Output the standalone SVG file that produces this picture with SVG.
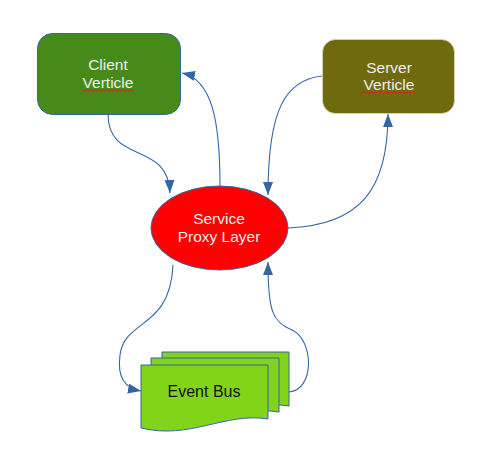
<svg xmlns="http://www.w3.org/2000/svg" width="479" height="455" viewBox="0 0 479 455">
<style>
.lbl{font-family:"Liberation Sans",Arial,sans-serif;font-size:15.5px;text-anchor:middle;fill:#eeeeee}
.dark{fill:#111111;font-size:16px}
.conn{fill:none;stroke:#3465a4;stroke-width:1.1}
.doc{fill:#81d41a;stroke:#3465a4;stroke-width:1}
.sq{fill:none;stroke:#e0201a;stroke-width:1}
</style>
<defs>
<marker id="ah" markerUnits="userSpaceOnUse" markerWidth="15" markerHeight="12" refX="13" refY="5" orient="auto">
<path d="M0,0 L13,5 L0,10 z" fill="#3465a4"/>
</marker>
</defs>
<rect width="479" height="455" fill="#ffffff"/>
<g id="client">
<rect x="37.5" y="33.5" width="143" height="81" rx="15" fill="#468a1a" stroke="#3465a4"/>
<text class="lbl" x="108" y="70">Client</text>
<text class="lbl" x="108" y="88">Verticle</text>
<path class="sq" d="M82,90.5 q1,-1.5 2,0 t2,0 t2,0 t2,0 t2,0 t2,0 t2,0 t2,0 t2,0 t2,0 t2,0 t2,0 t2,0 t2,0 t2,0 t2,0 t2,0 t2,0 t2,0 t2,0 t2,0 t2,0 t2,0 t2,0 t2,0 t2,0"/>
</g>
<g id="server">
<rect x="322.5" y="39.5" width="132" height="74" rx="13" fill="#706a0e" stroke="#d8d8c0" stroke-width="0.8"/>
<text class="lbl" x="389" y="73">Server</text>
<text class="lbl" x="389" y="90">Verticle</text>
<path class="sq" d="M362,92.5 q1,-1.5 2,0 t2,0 t2,0 t2,0 t2,0 t2,0 t2,0 t2,0 t2,0 t2,0 t2,0 t2,0 t2,0 t2,0 t2,0 t2,0 t2,0 t2,0 t2,0 t2,0 t2,0 t2,0 t2,0 t2,0 t2,0 t2,0"/>
</g>
<g id="proxy">
<ellipse cx="219.5" cy="228" rx="68.5" ry="42" fill="#ff0000" stroke="#3465a4"/>
<text class="lbl" x="219" y="224">Service</text>
<text class="lbl" x="219" y="242">Proxy Layer</text>
</g>
<g id="eventbus">
<path class="doc" d="M162,352 H289 V406 C246,399 211,427 162,415 Z"/>
<path class="doc" d="M151,358 H279 V412 C236,405 201,433 151,421 Z"/>
<path class="doc" d="M141,365 H268 V419 C225,412 190,440 141,428 Z"/>
<text class="lbl dark" x="204" y="397">Event Bus</text>
</g>
<g id="connectors">
<path class="conn" marker-end="url(#ah)" d="M108,114 C108,165 168,140 170,193"/>
<path class="conn" marker-end="url(#ah)" d="M220,186 C220,120 212,80 182,73"/>
<path class="conn" marker-end="url(#ah)" d="M322,76 C285,80 268,110 268,195"/>
<path class="conn" marker-end="url(#ah)" d="M288,228 C360,225 388,190 388,114"/>
<path class="conn" marker-end="url(#ah)" d="M173,265 C170,330 125,318 120,355 C117,378 125,388 141,391"/>
<path class="conn" marker-end="url(#ah)" d="M289,392 C315,390 314,340 292,330 C272,322 268,310 268,262"/>
</g>
</svg>
